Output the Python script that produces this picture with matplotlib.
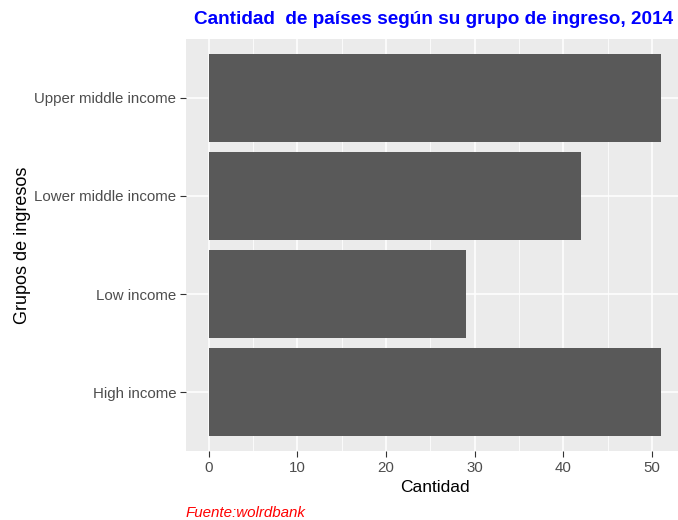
import matplotlib
matplotlib.use("Agg")
import matplotlib.pyplot as plt
from matplotlib.ticker import MultipleLocator

categories = ["High income", "Low income", "Lower middle income", "Upper middle income"]
counts = [51, 29, 42, 51]
x_ticks = [0, 10, 20, 30, 40, 50]

plt.rcParams['font.family'] = ['Liberation Sans', 'DejaVu Sans']

fig = plt.figure(figsize=(6.78, 5.2), dpi=100)
W, H = 678, 520
left, right, top, bottom = 186, 683.5, 39, 451
ax = fig.add_axes([left / W, 1 - bottom / H, (right - left) / W, (bottom - top) / H])
ax.set_facecolor('#EBEBEB')

ypos = list(range(1, len(categories) + 1))
ax.barh(ypos, counts, height=0.9, color='#595959', zorder=3)

xmax = max(counts)
ax.set_xlim(-0.05 * xmax, xmax * 1.05)
ax.set_ylim(0.4, len(categories) + 0.6)

ax.set_xticks(x_ticks)
ax.set_xticklabels([str(v) for v in x_ticks])
ax.xaxis.set_minor_locator(MultipleLocator(5))
ax.set_yticks(ypos)
ax.set_yticklabels(categories)

ax.grid(which='major', color='white', linewidth=1.1, zorder=1)
ax.grid(which='minor', axis='x', color='white', linewidth=0.55, zorder=1)
ax.set_axisbelow(True)
for s in ax.spines.values():
    s.set_visible(False)

ax.tick_params(which='major', length=4, width=0.8, color='#333333', labelcolor='#4D4D4D', labelsize=10.8, pad=3)
ax.tick_params(which='minor', length=0)

ax.set_xlabel('Cantidad', fontsize=12.5, color='black', labelpad=4)
ax.set_ylabel('Grupos de ingresos', fontsize=13, color='black', labelpad=2)

fig.text(434 / W, 1 - 19 / H, 'Cantidad  de países según su grupo de ingreso, 2014',
         color='blue', fontweight='bold', fontsize=13.7, ha='center', va='center')
fig.text(186 / W, 1 - 513 / H, 'Fuente:wolrdbank', color='red', style='italic',
         fontsize=10.9, ha='left', va='center')

fig.savefig('out.png', dpi=100)
